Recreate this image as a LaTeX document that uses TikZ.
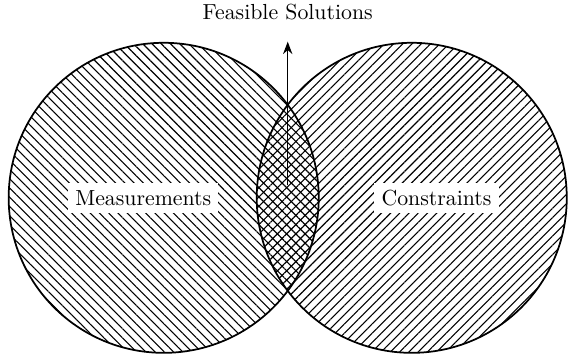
\documentclass[tikz,border=0pt]{standalone}
\usepackage{tikz}
\usetikzlibrary{arrows.meta,patterns.meta}

\begin{document}
\begin{tikzpicture}[>=Stealth,
   setA/.style={draw,thick,pattern={Lines[angle=-45,distance=3pt,line width=0.5pt]}},
   setB/.style={draw,thick,pattern={Lines[angle=45,distance=3pt,line width=0.5pt]}},
   lbl/.style={fill=white}]
  \useasboundingbox (-2.64,-2.52) rectangle (6.52,3.19);
  \path[setA] (0,0) circle (2.5);
  \path[setB] (4,0) circle (2.5);
  \node[lbl] (meas) at (-0.33,0) {Measurements};
  \node[lbl] (cons) at (4.4,0) {Constraints};
  \coordinate (lens) at (2,0.2);
  \node (feas) at (2,3) {Feasible Solutions};
  \draw[->,semithick,shorten >=2.3mm] (lens) -- (feas);
\end{tikzpicture}
\end{document}
